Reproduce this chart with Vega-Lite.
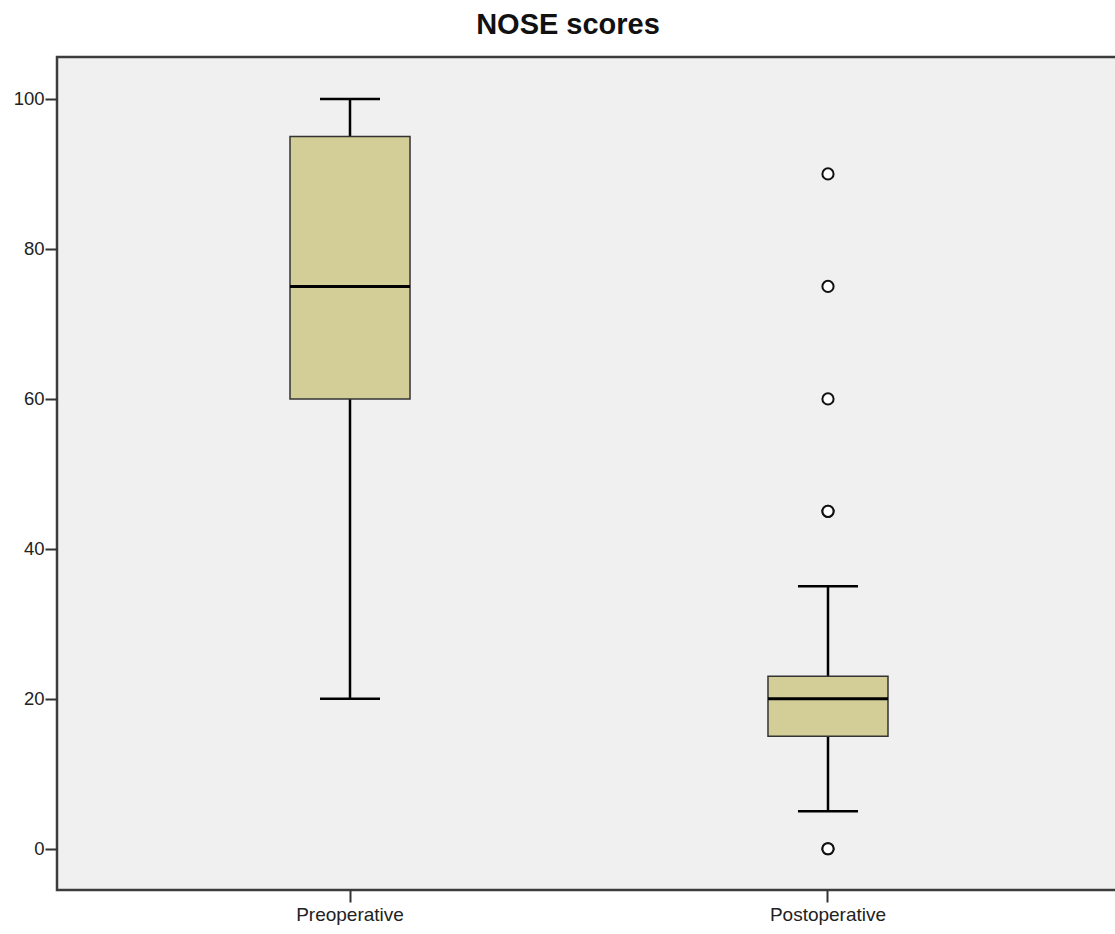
{
  "$schema": "https://vega.github.io/schema/vega-lite/v6.json",
  "width": 1064,
  "height": 833,
  "autosize": {"type": "none"},
  "padding": {"left": 57, "top": 57, "right": 0, "bottom": 44},
  "background": "#ffffff",
  "config": {
    "font": "Liberation Sans",
    "view": {"fill": "#f0f0f0", "stroke": "#3c3c3c", "strokeWidth": 2.5}
  },
  "title": {
    "text": "NOSE scores",
    "fontSize": 29,
    "fontWeight": "bold",
    "font": "Liberation Sans",
    "color": "#111111",
    "anchor": "middle",
    "dx": -21,
    "offset": 17
  },
  "datasets": {
    "boxes": [
      {"group": "Preoperative", "lo": 20, "q1": 60, "median": 75, "q3": 95, "hi": 100},
      {"group": "Postoperative", "lo": 5, "q1": 15, "median": 20, "q3": 23, "hi": 35}
    ],
    "outliers": [
      {"group": "Postoperative", "value": 90},
      {"group": "Postoperative", "value": 75},
      {"group": "Postoperative", "value": 60},
      {"group": "Postoperative", "value": 45},
      {"group": "Postoperative", "value": 45},
      {"group": "Postoperative", "value": 0},
      {"group": "Postoperative", "value": 0}
    ]
  },
  "encoding": {
    "x": {
      "field": "group",
      "type": "nominal",
      "sort": ["Preoperative", "Postoperative"],
      "scale": {"type": "band", "paddingInner": 0, "paddingOuter": 0.113},
      "axis": {
        "title": null,
        "labelAngle": 0,
        "domain": false,
        "tickSize": 12,
        "tickWidth": 2,
        "tickColor": "#333333",
        "labelFontSize": 19,
        "labelColor": "#222222",
        "labelPadding": 3
      }
    }
  },
  "layer": [
    {
      "data": {"name": "boxes"},
      "mark": {"type": "rule", "color": "#000000", "strokeWidth": 2.5, "opacity": 1},
      "encoding": {
        "y": {
          "field": "lo",
          "type": "quantitative",
          "scale": {"domain": [-5.5, 105.6], "nice": false, "zero": false},
          "axis": {
            "title": null,
            "values": [0, 20, 40, 60, 80, 100],
            "grid": false,
            "domain": false,
            "tickSize": 12,
            "tickWidth": 2,
            "tickColor": "#333333",
            "labelFontSize": 18.5,
            "labelColor": "#222222",
            "labelPadding": 1
          }
        },
        "y2": {"field": "hi"}
      }
    },
    {
      "data": {"name": "boxes"},
      "mark": {"type": "tick", "color": "#000000", "thickness": 2.5, "size": 60, "opacity": 1},
      "encoding": {"y": {"field": "lo", "type": "quantitative"}}
    },
    {
      "data": {"name": "boxes"},
      "mark": {"type": "tick", "color": "#000000", "thickness": 2.5, "size": 60, "opacity": 1},
      "encoding": {"y": {"field": "hi", "type": "quantitative"}}
    },
    {
      "data": {"name": "boxes"},
      "mark": {"type": "bar", "size": 120, "fill": "#d3ce98", "stroke": "#333333", "strokeWidth": 1.5, "opacity": 1},
      "encoding": {
        "y": {"field": "q1", "type": "quantitative"},
        "y2": {"field": "q3"}
      }
    },
    {
      "data": {"name": "boxes"},
      "mark": {"type": "tick", "color": "#000000", "thickness": 3, "size": 120, "opacity": 1},
      "encoding": {"y": {"field": "median", "type": "quantitative"}}
    },
    {
      "data": {"name": "outliers"},
      "mark": {"type": "point", "shape": "circle", "filled": false, "fill": "#ffffff", "fillOpacity": 1, "stroke": "#111111", "strokeWidth": 2, "size": 125, "opacity": 1},
      "encoding": {"y": {"field": "value", "type": "quantitative"}}
    }
  ]
}
